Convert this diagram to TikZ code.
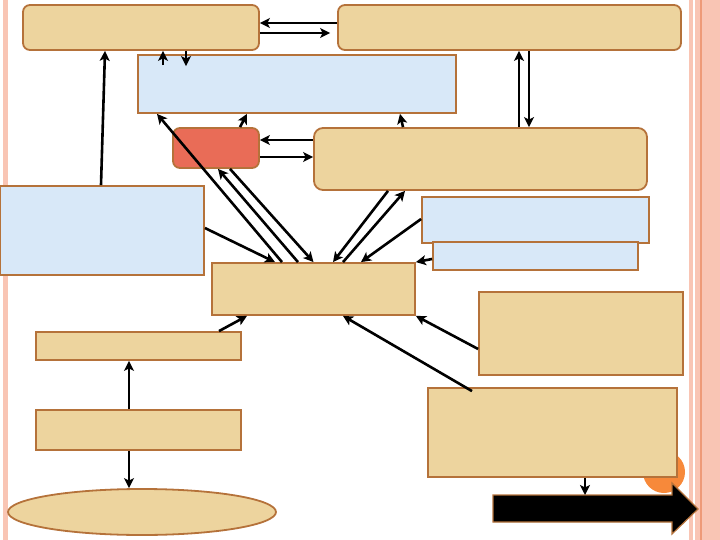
\documentclass[tikz,border=0pt]{standalone}
\usepackage{tikz}
\usetikzlibrary{arrows.meta,shapes.geometric}
\definecolor{paper}{HTML}{EDD49E}
\definecolor{edge}{HTML}{B5723A}
\definecolor{sky}{HTML}{D8E8F8}
\definecolor{brick}{HTML}{E96C57}
\definecolor{blush}{HTML}{F9C5B4}
\definecolor{rust}{HTML}{EE9A78}
\definecolor{tang}{HTML}{F7893A}

\begin{document}
\begin{tikzpicture}[x=1pt,y=-1pt,
    tan/.style={draw=edge,fill=paper,line width=1.8pt,inner sep=0pt},
    ice/.style={draw=edge,fill=sky,line width=1.8pt,inner sep=0pt},
    arr/.style={line width=2.6pt,-{Stealth[length=10pt,width=10pt,inset=2.5pt]}}]
    \useasboundingbox (0,0) rectangle (720,540);
    \fill[blush] (3,0) rectangle (8,540);
    \fill[blush] (689,0) rectangle (720,540);
    \fill[white] (693,0) rectangle (695,540);
    \fill[rust] (700,0) rectangle (702,540);

    \node[tan,rounded corners=7pt,minimum width=236pt,minimum height=45pt] (tl) at (141,27.5) {};
    \node[tan,rounded corners=7pt,minimum width=343pt,minimum height=45pt] (tr) at (509.5,27.5) {};
    \node[ice,minimum width=318pt,minimum height=58pt] (bu) at (297,84) {};
    \node[tan,fill=brick,rounded corners=7pt,minimum width=86pt,minimum height=40pt] (rd) at (216,148) {};
    \node[tan,rounded corners=9pt,minimum width=333pt,minimum height=62pt] (md) at (480.5,159) {};
    \node[ice,minimum width=204pt,minimum height=89pt] (lb) at (102,230.5) {};
    \node[ice,minimum width=227pt,minimum height=46pt] (rb) at (535.5,220) {};
    \node[ice,minimum width=205pt,minimum height=28pt] (rs) at (535.5,256) {};
    \node[tan,minimum width=203pt,minimum height=52pt] (cc) at (313.5,289) {};
    \node[tan,minimum width=205pt,minimum height=28pt] (la) at (138.5,346) {};
    \node[tan,minimum width=205pt,minimum height=40pt] (lc) at (138.5,430) {};
    \node[tan,ellipse,minimum width=268pt,minimum height=46pt] (ov) at (142,512) {};
    \node[tan,minimum width=204pt,minimum height=83pt] (ra) at (581,333.5) {};
    \fill[tang] (664,472) circle (21);
    \node[tan,minimum width=249pt,minimum height=89pt] (rc) at (552.5,432.5) {};
    \draw[edge,fill=black,line width=1.2pt] (493,495) -- (672,495) -- (672,483)
        -- (698,509) -- (672,534) -- (672,522) -- (493,522) -- cycle;
    \coordinate (nx) at (585,495);

    \draw[arr] ([yshift=4.5pt]tr.west) -- ([yshift=4.5pt]tl.east);
    \draw[arr] ([yshift=-5.5pt]tl.east) -- ([xshift=-7pt,yshift=-5.5pt]tr.west);
    \draw[arr] ([xshift=-134pt,yshift=-11pt]bu.north) -- ([xshift=22pt]tl.south);
    \draw[arr] ([xshift=45pt]tl.south) -- ([xshift=-111pt,yshift=-12pt]bu.north);
    \draw[arr] ([xshift=38.5pt]md.north) -- ([xshift=9.5pt]tr.south);
    \draw[arr] ([xshift=19.5pt]tr.south) -- ([xshift=48.5pt]md.north);
    \draw[arr] ([xshift=-1pt]lb.north) -- ([xshift=-36pt]tl.south);
    \draw[arr] ([xshift=24pt]rd.north) -- ([xshift=-50pt]bu.south);
    \draw[arr] ([xshift=-77.5pt]md.north) -- ([xshift=103pt]bu.south);
    \draw[arr] ([yshift=19pt]md.west) -- ([yshift=8pt]rd.east);
    \draw[arr] ([yshift=-9pt]rd.east) -- ([yshift=2pt]md.west);
    \draw[arr] ([xshift=-31.5pt]cc.north) -- ([xshift=-140pt]bu.south);
    \draw[arr] ([xshift=-15.5pt]cc.north) -- ([xshift=2pt]rd.south);
    \draw[arr] ([xshift=14pt]rd.south) -- (cc.north);
    \draw[arr] ([yshift=2.5pt]lb.east) -- ([xshift=-38.5pt]cc.north);
    \draw[arr] ([xshift=-92.5pt]md.south) -- ([xshift=19.5pt]cc.north);
    \draw[arr] ([xshift=29.5pt]cc.north) -- ([xshift=-75.5pt]md.south);
    \draw[arr] ([yshift=1pt]rb.west) -- ([xshift=47.5pt]cc.north);
    \draw[arr] ([yshift=-3pt]rs.west) -- (cc.north east);
    \draw[arr] ([xshift=80.5pt]la.north) -- ([xshift=-66.5pt]cc.south);
    \draw[arr] ([yshift=-15.5pt]ra.west) -- (cc.south east);
    \draw[arr] ([xshift=-80.5pt,yshift=-4pt]rc.north) -- ([xshift=29.5pt]cc.south);
    \draw[arr] ([xshift=-9.5pt]lc.north) -- ([xshift=-9.5pt]la.south);
    \draw[arr] ([xshift=-9.5pt]lc.south) -- ([xshift=-13pt]ov.north);
    \draw[arr] ([xshift=32.5pt]rc.south) -- (nx);
\end{tikzpicture}
\end{document}
